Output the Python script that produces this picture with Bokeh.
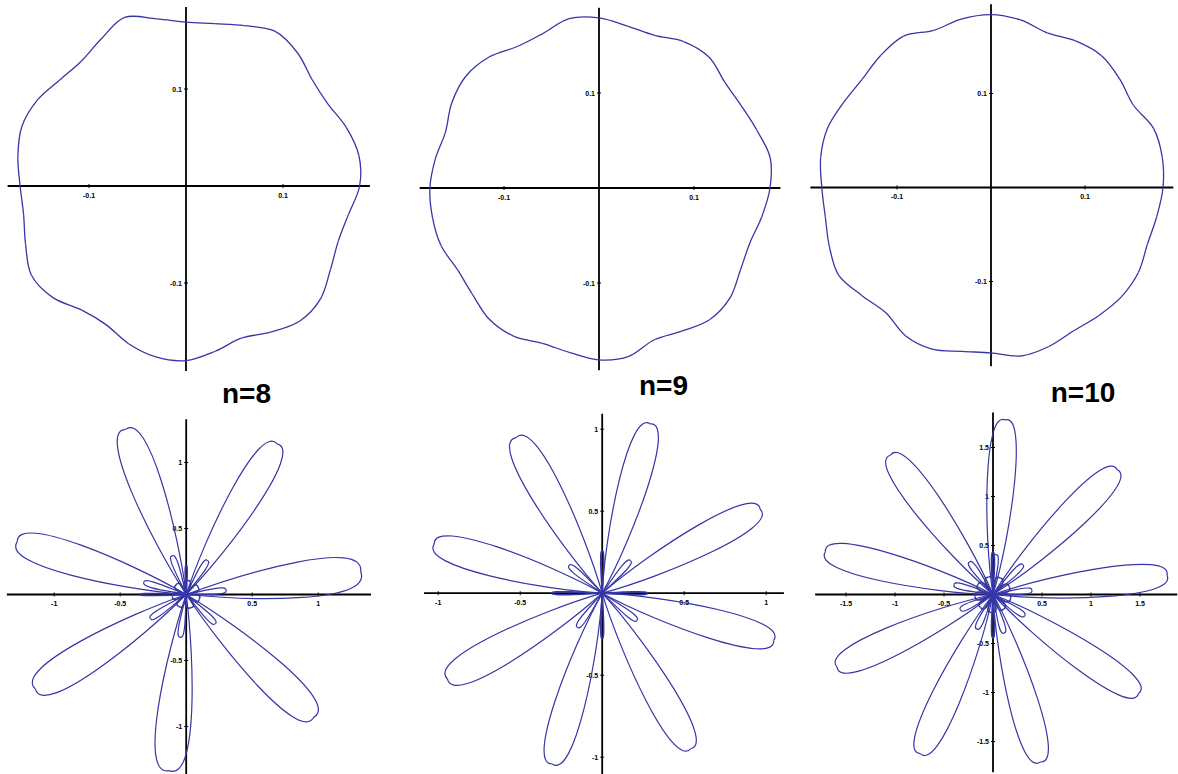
import numpy as np
from bokeh.plotting import figure
from bokeh.layouts import row, column
from bokeh.models import Range1d, Label
from bokeh.embed import file_html
from bokeh.resources import INLINE
from bokeh.core.properties import value

# ---------------- data ----------------
# top row: radius of the closed polar curve, read every 10 degrees
curve_angles = list(range(0, 360, 10))
r_n8 = [0.179, 0.181, 0.176, 0.169, 0.170, 0.179, 0.184, 0.176, 0.170, 0.169, 0.175, 0.185,
        0.175, 0.168, 0.170, 0.177, 0.180, 0.176, 0.171, 0.170, 0.176, 0.184, 0.179, 0.167,
        0.165, 0.173, 0.179, 0.180, 0.173, 0.167, 0.174, 0.182, 0.181, 0.172, 0.167, 0.170]
r_n9 = [0.180, 0.183, 0.177, 0.173, 0.173, 0.180, 0.178, 0.171, 0.173, 0.179, 0.181, 0.173,
        0.172, 0.180, 0.183, 0.179, 0.172, 0.175, 0.178, 0.178, 0.177, 0.172, 0.174, 0.180,
        0.180, 0.174, 0.176, 0.181, 0.180, 0.170, 0.174, 0.181, 0.180, 0.172, 0.169, 0.174]
r_n10 = [0.183, 0.185, 0.184, 0.175, 0.179, 0.183, 0.180, 0.175, 0.181, 0.184, 0.182, 0.178,
         0.186, 0.183, 0.179, 0.181, 0.185, 0.184, 0.180, 0.179, 0.183, 0.187, 0.179, 0.174,
         0.182, 0.183, 0.177, 0.176, 0.182, 0.180, 0.176, 0.178, 0.181, 0.181, 0.177, 0.179]
top_ticks = [-0.1, 0.1]
top_tick_labels = ["-0.1", "0.1"]

panel_titles = ["n=8", "n=9", "n=10"]

# bottom row: main lobes (direction in degrees, length, max width)
n8_angle = [7.4, 58.9, 110.2, 162.7, 212.0, 264.4, 316.2]
n8_len = [1.333, 1.333, 1.333, 1.341, 1.348, 1.341, 1.341]
n8_width = [0.280, 0.235, 0.245, 0.245, 0.255, 0.262, 0.255]
n8_small_angle = [6, 58, 110, 164, 214, 262, 315]
n8_small_len = [0.303, 0.303, 0.311, 0.333, 0.326, 0.326, 0.311]
n8_small_width = [0.045] * 7
n8_tiny_angle = [33, 84, 136, 188, 238, 290, 340]
n8_tiny_len = [0.106] * 7
n8_tiny_width = [0.053] * 7
n8_spike_angle = [180, 90]
n8_spike_len = [0.348, 0.220]
n8_spike_width = [0.015, 0.015]
n8_ticks = [-1.0, -0.5, 0.5, 1.0]
n8_tick_labels = ["-1", "-0.5", "0.5", "1"]

n9_angle = [28.0, 74.1, 119.0, 163.7, 209.0, 253.7, 299.6, 344.6]
n9_len = [1.091, 1.073, 1.085, 1.067, 1.079, 1.085, 1.091, 1.085]
n9_width = [0.185, 0.180, 0.195, 0.185, 0.195, 0.185, 0.185, 0.185]
n9_small_angle = [49, 140, 234, 322]
n9_small_len = [0.262, 0.262, 0.256, 0.268]
n9_small_width = [0.037] * 4
n9_spike_angle = [0, 90, 180, 270]
n9_spike_len = [0.274, 0.256, 0.305, 0.274]
n9_spike_width = [0.018] * 4
n9_ticks = [-1.0, -0.5, 0.5, 1.0]
n9_tick_labels = ["-1", "-0.5", "0.5", "1"]

n10_angle = [6.3, 45.1, 86.0, 126.4, 165.7, 204.9, 245.4, 285.8, 325.8]
n10_len = [1.786, 1.796, 1.786, 1.765, 1.765, 1.755, 1.786, 1.776, 1.796]
n10_width = [0.300, 0.300, 0.280, 0.300, 0.300, 0.300, 0.300, 0.300, 0.300]
n10_small_angle = [6, 45, 86, 126, 166, 205, 245, 286, 326]
n10_small_len = [0.398, 0.429, 0.408, 0.408, 0.408, 0.367, 0.388, 0.408, 0.388]
n10_small_width = [0.061] * 9
n10_tiny_angle = [26, 66, 106, 146, 186, 226, 266, 306, 346]
n10_tiny_len = [0.184] * 9
n10_tiny_width = [0.082] * 9
n10_spike_angle = [90, 270]
n10_spike_len = [0.429, 0.439]
n10_spike_width = [0.031, 0.031]
n10_ticks = [-1.5, -1.0, -0.5, 0.5, 1.0, 1.5]
n10_tick_labels = ["-1.5", "-1", "-0.5", "0.5", "1", "1.5"]

# ---------------- layout / style ----------------
BLUE = "#3636a6"
COL_W = [395, 400, 383]
TOP_H = 412
BOT_H = 362
top_centers = [(185.5, 185.5), (203.5, 187.5), (195.5, 187.0)]
top_scale = [970.0, 950.0, 940.0]
bot_centers = [(185.7, 182.0), (206.7, 180.7), (197.5, 182.0)]
bot_scale = [132.0, 164.0, 98.0]
title_pos = [(246, 19), (268, 27), (287.5, 20)]
FONT = "Liberation Sans"


def make_fig(W, H, cx, cy, s):
    p = figure(width=W, height=H,
               x_range=Range1d(-cx / s, (W - cx) / s),
               y_range=Range1d(-(H - cy) / s, cy / s),
               x_axis_type=None, y_axis_type=None,
               toolbar_location=None, output_backend="svg",
               min_border=0, outline_line_color=None,
               background_fill_color="white", border_fill_color="white")
    p.grid.visible = False
    return p


def draw_axes(p, xs, ys, ticks, labels):
    xmin, xmax = min(xs), max(xs)
    ymin, ymax = min(ys), max(ys)
    padx = 0.03 * (xmax - xmin)
    pady = 0.03 * (ymax - ymin)
    p.segment(x0=[xmin - padx, 0], y0=[0, ymin - pady],
              x1=[xmax + padx, 0], y1=[0, ymax + pady],
              line_color="black", line_width=1.8)
    zeros = [0] * len(ticks)
    p.scatter(x=ticks, y=zeros, marker="dash", size=4, angle=np.pi / 2,
              line_color="black", line_width=1)
    p.scatter(x=zeros, y=ticks, marker="dash", size=4,
              line_color="black", line_width=1)
    p.text(x=ticks, y=zeros, text=labels, y_offset=9, text_align="center",
           text_baseline="middle", text_font_size="7px", text_font_style="bold",
           text_font=value(FONT), text_color="black")
    p.text(x=zeros, y=ticks, text=labels, x_offset=-4, text_align="right",
           text_baseline="middle", text_font_size="7px", text_font_style="bold",
           text_font=value(FONT), text_color="black")


def smooth_closed(p, x, y, lw=1.3):
    # draw a smooth closed curve through the read points (Catmull-Rom as cubic Beziers)
    n = len(x)
    d = dict(x0=[], y0=[], x1=[], y1=[], cx0=[], cy0=[], cx1=[], cy1=[])
    for i in range(n):
        i0, i2, i3 = (i - 1) % n, (i + 1) % n, (i + 2) % n
        d["x0"].append(x[i]); d["y0"].append(y[i])
        d["x1"].append(x[i2]); d["y1"].append(y[i2])
        d["cx0"].append(x[i] + (x[i2] - x[i0]) / 6)
        d["cy0"].append(y[i] + (y[i2] - y[i0]) / 6)
        d["cx1"].append(x[i2] - (x[i3] - x[i]) / 6)
        d["cy1"].append(y[i2] - (y[i3] - y[i]) / 6)
    p.bezier(source=d, x0="x0", y0="y0", x1="x1", y1="y1",
             cx0="cx0", cy0="cy0", cx1="cx1", cy1="cy1",
             line_color=BLUE, line_width=lw)


def lobes(p, ang, L, Wd, alpha_deg, lw=1.2):
    d = dict(x0=[], y0=[], x1=[], y1=[], cx0=[], cy0=[], cx1=[], cy1=[])
    ta = np.tan(np.radians(alpha_deg))
    for a, l, w in zip(ang, L, Wd):
        th = np.radians(a)
        ux, uy = np.cos(th), np.sin(th)
        vx, vy = -uy, ux
        b1 = 0.35 * l * ta
        b2 = max((w / 2 - 0.288 * b1) / 0.432, b1)
        for sgn in (1, -1):
            d["x0"].append(0.0); d["y0"].append(0.0)
            d["x1"].append(l * ux); d["y1"].append(l * uy)
            d["cx0"].append(0.35 * l * ux + sgn * b1 * vx)
            d["cy0"].append(0.35 * l * uy + sgn * b1 * vy)
            d["cx1"].append(1.05 * l * ux + sgn * b2 * vx)
            d["cy1"].append(1.05 * l * uy + sgn * b2 * vy)
    p.bezier(source=d, x0="x0", y0="y0", x1="x1", y1="y1",
             cx0="cx0", cy0="cy0", cx1="cx1", cy1="cy1",
             line_color=BLUE, line_width=lw)


# ---------------- top row ----------------
top_figs = []
for i, r in enumerate([r_n8, r_n9, r_n10]):
    cx, cy = top_centers[i]
    p = make_fig(COL_W[i], TOP_H, cx, cy, top_scale[i])
    th = np.radians(curve_angles)
    rr = np.array(r)
    x = rr * np.cos(th)
    y = rr * np.sin(th)
    draw_axes(p, x, y, top_ticks, top_tick_labels)
    smooth_closed(p, list(x), list(y))
    tx, ty = title_pos[i]
    p.add_layout(Label(x=tx, y=ty, x_units="screen", y_units="screen",
                       text=panel_titles[i], text_font_size="28px",
                       text_font_style="bold", text_font=FONT,
                       text_align="center", text_baseline="middle",
                       text_color="black"))
    top_figs.append(p)

# ---------------- bottom row ----------------
bot_specs = [
    dict(main=(n8_angle, n8_len, n8_width), small=(n8_small_angle, n8_small_len, n8_small_width),
         tiny=(n8_tiny_angle, n8_tiny_len, n8_tiny_width),
         spike=(n8_spike_angle, n8_spike_len, n8_spike_width), ticks=(n8_ticks, n8_tick_labels)),
    dict(main=(n9_angle, n9_len, n9_width), small=(n9_small_angle, n9_small_len, n9_small_width),
         tiny=None,
         spike=(n9_spike_angle, n9_spike_len, n9_spike_width), ticks=(n9_ticks, n9_tick_labels)),
    dict(main=(n10_angle, n10_len, n10_width), small=(n10_small_angle, n10_small_len, n10_small_width),
         tiny=(n10_tiny_angle, n10_tiny_len, n10_tiny_width),
         spike=(n10_spike_angle, n10_spike_len, n10_spike_width), ticks=(n10_ticks, n10_tick_labels)),
]
bot_figs = []
for i, spec in enumerate(bot_specs):
    cx, cy = bot_centers[i]
    p = make_fig(COL_W[i], BOT_H, cx, cy, bot_scale[i])
    ang, L, Wd = spec["main"]
    tipx = [l * np.cos(np.radians(a)) for a, l in zip(ang, L)]
    tipy = [l * np.sin(np.radians(a)) for a, l in zip(ang, L)]
    draw_axes(p, tipx, tipy, *spec["ticks"])
    lobes(p, ang, L, Wd, 13)
    lobes(p, *spec["small"], 4)
    if spec["tiny"] is not None:
        lobes(p, *spec["tiny"], 15, lw=1.5)
    lobes(p, *spec["spike"], 3, lw=1.6)
    bot_figs.append(p)

layout = column(row(*top_figs, spacing=0), row(*bot_figs, spacing=0), spacing=0)
open("out.html", "w").write(file_html(layout, INLINE))
